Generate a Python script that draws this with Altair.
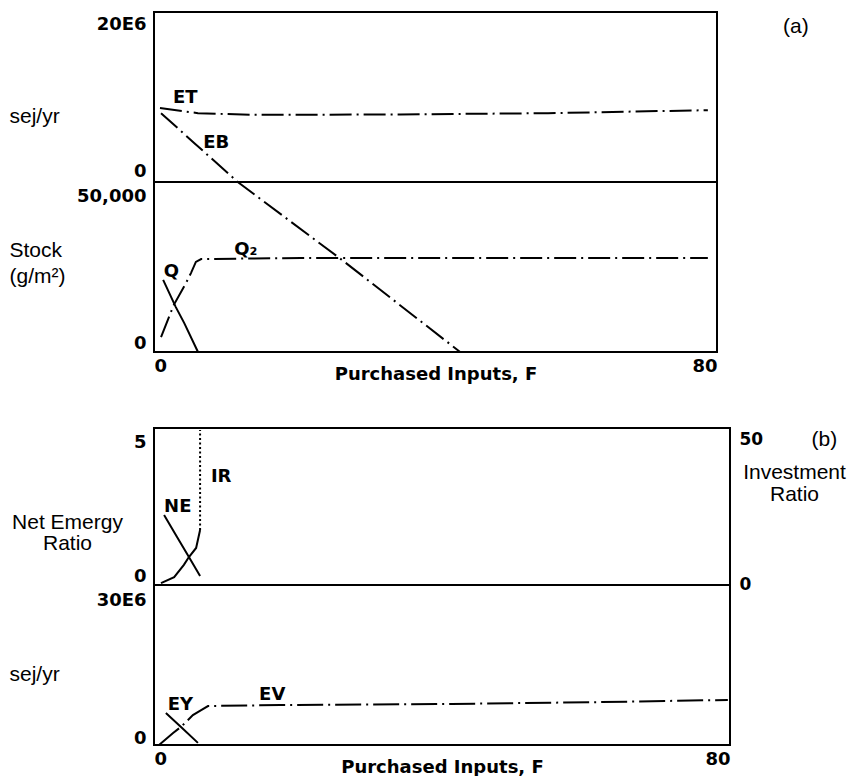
import altair as alt
import pandas as pd

# ---------------- data ----------------
# Panel (a), upper part: emergy flows, sej/yr
F_ET = [0.85, 6.25, 13.8, 35.0, 56.0, 78.7]
ET = [8.7e6, 8.1e6, 7.9e6, 7.95e6, 8.1e6, 8.45e6]
F_EB = [1.0, 5.7, 11.9, 26.6, 43.5]
EB = [8.1e6, 4.6e6, 0.0, -9.1e6, -20.0e6]

# Panel (a), lower part: stock, g/m2
F_Q = [1.3, 3.1, 4.3, 6.25]
Q = [21200, 13200, 8500, 0]
F_Q2 = [1.0, 2.8, 4.55, 5.25, 5.95, 6.7, 20.9, 49.3, 78.7]
Q2 = [4400, 13800, 20300, 23200, 26500, 27350, 27650, 27650, 27650]

# Panel (b), upper part: ratios
F_NE = [1.4, 3.2, 4.85, 6.4]
NE = [2.23, 1.53, 0.89, 0.29]
F_IR = [0.97, 2.8, 4.15, 4.85, 5.85, 6.4]
IR = [0.6, 2.5, 6.4, 8.9, 11.8, 17.5]
F_IR_DOT = [6.4, 6.4]
IR_DOT = [17.5, 49.4]

# Panel (b), lower part: emergy flows, sej/yr
F_EY = [1.65, 3.9, 6.1]
EY = [6.0e6, 3.2e6, 0.4e6]
F_EV = [0.7, 2.65, 3.75, 5.4, 6.55, 7.5, 17.6, 41.3, 62.1, 79.7]
EV = [0.0, 2.25e6, 3.4e6, 5.6e6, 6.55e6, 7.3e6, 7.5e6, 7.7e6, 8.05e6, 8.45e6]

# curve labels (text, F, value)
LAB_A1 = [("ET", 2.7, 9.3e6), ("EB", 7.0, 4.0e6)]
LAB_A2 = [("Q", 1.4, 22000), ("Q\u2082", 11.4, 28500)]
LAB_B1 = [("NE", 1.4, 2.32), ("IR", 7.9, 3.28)]
LAB_B2 = [("EY", 1.9, 6.6e6), ("EV", 14.6, 8.45e6)]
PANEL_A = [("(a)", 91.2, 17.5e6)]
PANEL_B = [("(b)", 93.1, 4.43)]

X_TICKS = [0, 80]
XTITLE = "Purchased Inputs, F"

BOLD = "DejaVu Sans"
PLAIN = "Liberation Sans"

W_A, W_B = 563, 576
H_A1, H_A2, GAP, H_B1, H_B2 = 170, 170, 76, 157, 160


def df_line(xs, ys):
    return pd.DataFrame({"F": xs, "v": ys, "i": list(range(len(xs)))})


def df_text(rows):
    return pd.DataFrame(rows, columns=["t", "F", "v"])


def x_enc(scale, show):
    if show:
        ax = alt.Axis(values=X_TICKS, labelFlush=True, domain=False, ticks=False,
                      grid=False, labelPadding=5, labelFont=BOLD, labelFontWeight="bold",
                      labelFontSize=18, labelColor="black", labelBaseline="top",
                      title=XTITLE, titleFont=BOLD, titleFontWeight="bold",
                      titleFontSize=18, titleColor="black", titleBaseline="alphabetic",
                      titleY=27)
        return alt.X("F:Q", scale=scale, axis=ax)
    return alt.X("F:Q", scale=scale, axis=None)


def y_axis(values, expr, title, tx, ty, baseline="alphabetic", align="left",
           orient="left", lh=22, pad=8, size=18, top_shift=0, bottom_shift=0):
    top = values[1]
    offset = {"condition": {"test": f"datum.value == {top}", "value": top_shift},
              "value": bottom_shift}
    return alt.Axis(values=values, labelExpr=expr, labelFlush=True, domain=False,
                    ticks=False, grid=False, labelPadding=pad, orient=orient,
                    labelOffset=offset,
                    labelFont=BOLD, labelFontWeight="bold", labelFontSize=size,
                    labelColor="black",
                    title=title, titleAngle=0, titleAlign=align, titleBaseline=baseline,
                    titleX=tx, titleY=ty, titleFont=PLAIN, titleFontSize=21,
                    titleFontWeight="normal", titleColor="black", titleLineHeight=lh)


def lines(df, xs, ys, dash=None, width=2):
    kw = dict(color="black", strokeWidth=width, clip=False)
    if dash:
        kw["strokeDash"] = dash
    return alt.Chart(df).mark_line(**kw).encode(x=xs, y=ys, order="i:Q")


def labels(rows, xs, ys, font=BOLD, weight="bold", size=18, align="left"):
    return alt.Chart(df_text(rows)).mark_text(
        font=font, fontWeight=weight, fontSize=size, align=align,
        baseline="alphabetic", color="black").encode(x=xs, y=ys, text="t:N")


DASHDOT = [22, 5, 2, 5]

# ---------------- panel (a) upper ----------------
xa = alt.Scale(domain=[0, 80], nice=False, zero=False)
ya1 = alt.Scale(domain=[0, 20e6], nice=False, zero=False)
ya1_ax = y_axis([0, 20e6], "datum.value == 0 ? '0' : '20E6'", "sej/yr", -145, 110,
                top_shift=3, bottom_shift=-2)
a1 = alt.layer(
    lines(df_line(F_ET, ET), x_enc(xa, False), alt.Y("v:Q", scale=ya1, axis=ya1_ax), DASHDOT),
    lines(df_line(F_EB, EB), x_enc(xa, False), alt.Y("v:Q", scale=ya1), DASHDOT),
    labels(LAB_A1, x_enc(xa, False), alt.Y("v:Q", scale=ya1)),
    labels(PANEL_A, x_enc(xa, False), alt.Y("v:Q", scale=ya1), font=PLAIN,
           weight="normal", size=21, align="center"),
).properties(width=W_A, height=H_A1)

# ---------------- panel (a) lower ----------------
ya2 = alt.Scale(domain=[0, 50000], nice=False, zero=False)
ya2_ax = y_axis([0, 50000], "datum.value == 0 ? '0' : '50,000'", ["Stock", "(g/m\u00b2)"],
                -145, 57, baseline="top", lh=26, top_shift=5, bottom_shift=0)
a2 = alt.layer(
    lines(df_line(F_Q, Q), x_enc(xa, True), alt.Y("v:Q", scale=ya2, axis=ya2_ax)),
    lines(df_line(F_Q2, Q2), x_enc(xa, True), alt.Y("v:Q", scale=ya2), DASHDOT),
    labels(LAB_A2, x_enc(xa, True), alt.Y("v:Q", scale=ya2)),
).properties(width=W_A, height=H_A2)

# ---------------- spacer ----------------
spacer = alt.Chart(pd.DataFrame({"v": [0]})).mark_point(opacity=0).encode(
    x=alt.value(0), y=alt.value(0)
).properties(width=W_B, height=GAP, view=alt.ViewBackground(strokeOpacity=0))

# ---------------- panel (b) upper ----------------
xb = alt.Scale(domain=[0, 80], nice=False, zero=False)
yb1 = alt.Scale(domain=[0, 5], nice=False, zero=False)
yb1r = alt.Scale(domain=[0, 50], nice=False, zero=False)
yb1_ax = y_axis([0, 5], "datum.value == 0 ? '0' : '5'", ["Net Emergy", "Ratio"],
                -87, 83, baseline="top", align="center", lh=21,
                top_shift=5, bottom_shift=0)
yb1r_ax = y_axis([0, 50], "datum.value == 0 ? '0' : '50'", ["Investment", "Ratio"],
                 64, 33, baseline="top", align="center", orient="right", lh=22,
                 pad=9, size=17, top_shift=3, bottom_shift=8)
left_b1 = alt.layer(
    lines(df_line(F_NE, NE), x_enc(xb, False), alt.Y("v:Q", scale=yb1, axis=yb1_ax)),
    labels(LAB_B1, x_enc(xb, False), alt.Y("v:Q", scale=yb1)),
    labels(PANEL_B, x_enc(xb, False), alt.Y("v:Q", scale=yb1), font=PLAIN,
           weight="normal", size=21, align="center"),
)
right_b1 = alt.layer(
    lines(df_line(F_IR, IR), x_enc(xb, False), alt.Y("v:Q", scale=yb1r, axis=yb1r_ax)),
    lines(df_line(F_IR_DOT, IR_DOT), x_enc(xb, False), alt.Y("v:Q", scale=yb1r), [2, 2.5]),
)
b1 = alt.layer(left_b1, right_b1).resolve_scale(y="independent").properties(
    width=W_B, height=H_B1)

# ---------------- panel (b) lower ----------------
yb2 = alt.Scale(domain=[0, 30e6], nice=False, zero=False)
yb2_ax = y_axis([0, 30e6], "datum.value == 0 ? '0' : '30E6'", "sej/yr", -145, 95,
                top_shift=6, bottom_shift=2)
b2 = alt.layer(
    lines(df_line(F_EY, EY), x_enc(xb, True), alt.Y("v:Q", scale=yb2, axis=yb2_ax)),
    lines(df_line(F_EV, EV), x_enc(xb, True), alt.Y("v:Q", scale=yb2), [26, 5, 2, 5]),
    labels(LAB_B2, x_enc(xb, True), alt.Y("v:Q", scale=yb2)),
).properties(width=W_B, height=H_B2)

chart = alt.vconcat(a1, a2, spacer, b1, b2, spacing=0, bounds="flush").resolve_scale(
    x="independent", y="independent"
).properties(
    padding={"left": 0, "top": 3, "right": 0, "bottom": 0},
    background="white",
).configure_view(stroke="black", strokeWidth=2)

chart.save("out.html", embed_options={"renderer": "svg", "actions": False})
